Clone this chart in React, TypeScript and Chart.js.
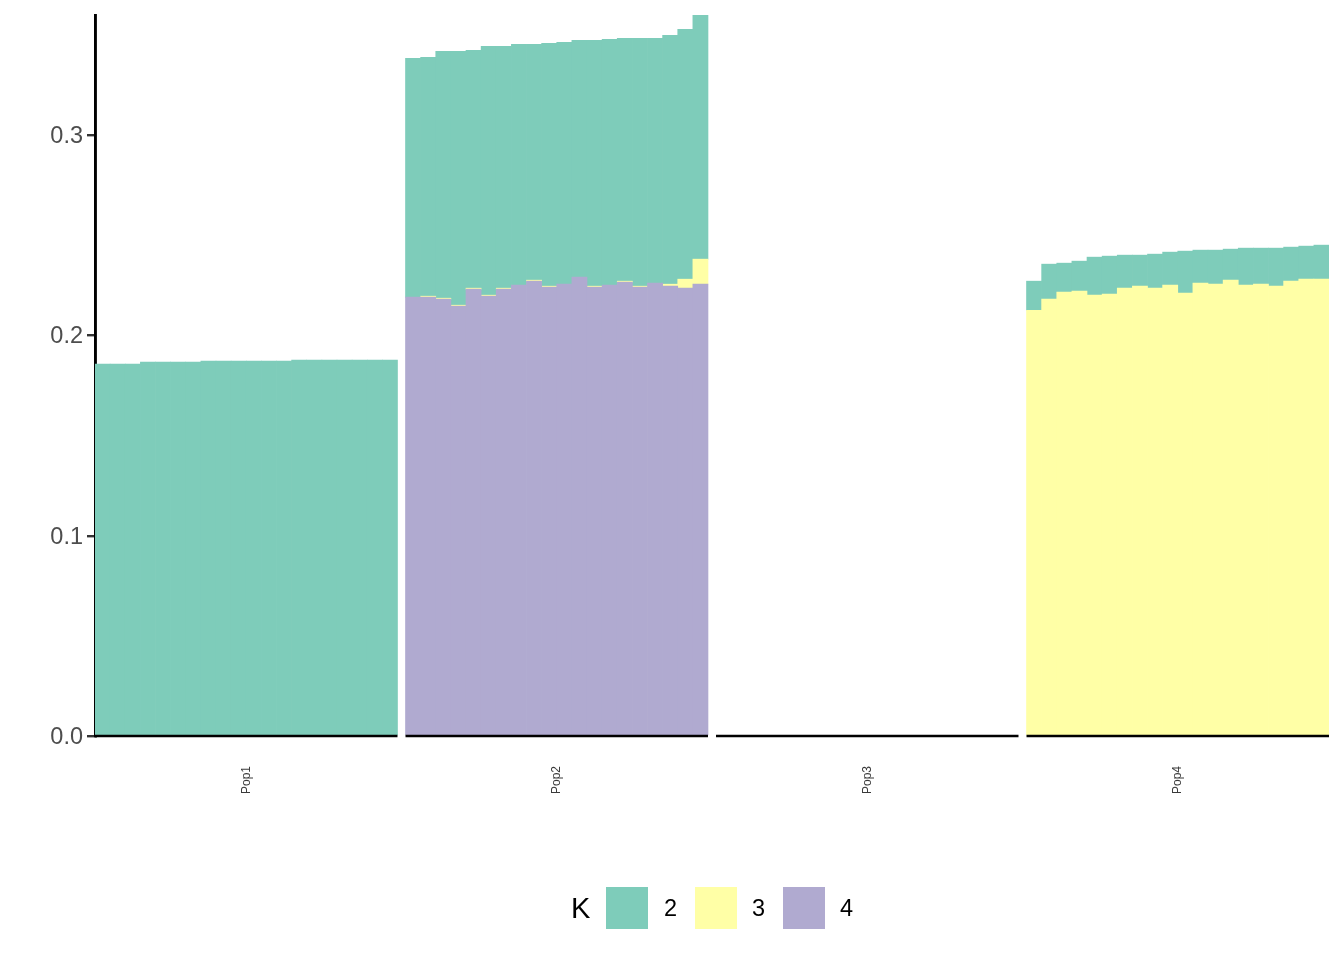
import React, { useEffect, useRef } from 'react';
import { Chart, registerables } from 'chart.js';

Chart.register(...registerables);

// ---- data ----
const pops = ['Pop1', 'Pop2', 'Pop3', 'Pop4'];
const kLevels = ['2', '3', '4'];
const kColors = ['#7ECCBA', '#FFFFA6', '#B0AAD0'];
const yTicks = [0, 0.1, 0.2, 0.3];
const yMax = 0.36;

// K = 2 (teal)
const pop1K2 = [0.1857, 0.1857, 0.1857, 0.1867, 0.1867, 0.1867, 0.1867, 0.1872, 0.1872, 0.1872, 0.1872, 0.1872, 0.1872, 0.1877, 0.1877, 0.1877, 0.1877, 0.1877, 0.1877, 0.1877];
const pop2K2 = [0.1193, 0.1193, 0.1233, 0.1268, 0.1188, 0.1243, 0.1208, 0.1203, 0.1178, 0.1213, 0.1208, 0.1183, 0.1228, 0.1228, 0.1213, 0.1238, 0.1223, 0.1243, 0.1248, 0.1218];
const pop3K2 = [0, 0, 0, 0, 0, 0, 0, 0, 0, 0, 0, 0, 0, 0, 0, 0, 0, 0, 0, 0];
const pop4K2 = [0.0145, 0.0175, 0.0145, 0.0150, 0.0190, 0.0190, 0.0165, 0.0155, 0.0170, 0.0165, 0.0210, 0.0165, 0.0170, 0.0155, 0.0185, 0.0180, 0.0190, 0.0170, 0.0165, 0.0170];

// K = 3 (yellow)
const pop1K3 = [0, 0, 0, 0, 0, 0, 0, 0, 0, 0, 0, 0, 0, 0, 0, 0, 0, 0, 0, 0];
const pop2K3 = [0, 0.0005, 0.0005, 0.0005, 0.0005, 0.0005, 0.0005, 0, 0.0005, 0.0005, 0, 0, 0.0005, 0, 0.0005, 0.0005, 0, 0.001, 0.0045, 0.0125];
const pop3K3 = [0, 0, 0, 0, 0, 0, 0, 0, 0, 0, 0, 0, 0, 0, 0, 0, 0, 0, 0, 0];
const pop4K3 = [0.2126, 0.2181, 0.2216, 0.2221, 0.2201, 0.2206, 0.2236, 0.2246, 0.2236, 0.2251, 0.2211, 0.2261, 0.2256, 0.2276, 0.2251, 0.2256, 0.2246, 0.2271, 0.2281, 0.2281];

// K = 4 (purple)
const pop1K4 = [0, 0, 0, 0, 0, 0, 0, 0, 0, 0, 0, 0, 0, 0, 0, 0, 0, 0, 0, 0];
const pop2K4 = [0.2191, 0.2191, 0.2181, 0.2146, 0.2231, 0.2196, 0.2231, 0.2251, 0.2271, 0.2241, 0.2256, 0.2291, 0.2241, 0.2251, 0.2266, 0.2241, 0.2261, 0.2246, 0.2236, 0.2256];
const pop3K4 = [0, 0, 0, 0, 0, 0, 0, 0, 0, 0, 0, 0, 0, 0, 0, 0, 0, 0, 0, 0];
const pop4K4 = [0, 0, 0, 0, 0, 0, 0, 0, 0, 0, 0, 0, 0, 0, 0, 0, 0, 0, 0, 0];

const seriesByK = [
  [pop1K2, pop2K2, pop3K2, pop4K2],
  [pop1K3, pop2K3, pop3K3, pop4K3],
  [pop1K4, pop2K4, pop3K4, pop4K4],
];

// ---- layout helpers ----
const perPop = 20;
const facetGap = 0.53;
const facetStart = (f: number) => f * (perPop + facetGap);
const xMax = facetStart(pops.length - 1) + perPop;
const FONT = '"Liberation Sans", Arial, Helvetica, sans-serif';

function buildData(arrs: number[][]) {
  const pts: { x: number; y: number | null }[] = [];
  arrs.forEach((arr, f) => {
    arr.forEach((v, j) => {
      pts.push({ x: facetStart(f) + j + 0.5, y: v > 0 ? v : null });
    });
  });
  return pts;
}

const facetAxisPlugin = {
  id: 'facetAxis',
  afterDatasetsDraw(chart: any) {
    const ctx = chart.ctx;
    const xs = chart.scales.x;
    const y = chart.chartArea.bottom;
    ctx.save();
    ctx.strokeStyle = '#000000';
    ctx.lineWidth = 2.7;
    pops.forEach((_, f) => {
      const s = xs.getPixelForValue(facetStart(f));
      const e = xs.getPixelForValue(facetStart(f) + perPop);
      ctx.beginPath();
      ctx.moveTo(s, y);
      ctx.lineTo(e, y);
      ctx.stroke();
    });
    ctx.restore();
  },
};

export default function App() {
  const ref = useRef<HTMLCanvasElement | null>(null);

  useEffect(() => {
    if (!ref.current) return;
    // stacking order bottom -> top : K4, K3, K2
    const order = [2, 1, 0];
    const datasets = order.map((k) => ({
      label: kLevels[k],
      data: buildData(seriesByK[k]),
      backgroundColor: kColors[k],
      borderWidth: 0,
      barPercentage: 1,
      categoryPercentage: 1,
    }));
    const chart = new Chart(ref.current, {
      type: 'bar',
      data: { datasets: datasets as any },
      options: {
        animation: false,
        responsive: false,
        maintainAspectRatio: false,
        layout: { padding: { top: 15, left: 0, right: 15, bottom: 0 } },
        plugins: { legend: { display: false }, tooltip: { enabled: false } },
        scales: {
          x: {
            type: 'linear',
            stacked: true,
            offset: false,
            min: 0,
            max: xMax,
            grid: { display: false, drawTicks: false },
            border: { display: false },
            afterBuildTicks: (scale: any) => {
              scale.ticks = pops.map((_, f) => ({ value: facetStart(f) + perPop / 2 }));
            },
            afterFit: (scale: any) => {
              scale.height = 224;
              scale.paddingLeft = 0;
              scale.paddingRight = 0;
            },
            ticks: {
              autoSkip: false,
              minRotation: 90,
              maxRotation: 90,
              padding: 30,
              color: '#3A3A3A',
              font: { family: FONT, size: 12 },
              callback: (_v: any, i: number) => pops[i],
            },
          },
          y: {
            type: 'linear',
            stacked: true,
            min: 0,
            max: yMax,
            z: 1,
            afterBuildTicks: (scale: any) => {
              scale.ticks = yTicks.map((v) => ({ value: v }));
            },
            afterFit: (scale: any) => {
              scale.width = 95;
              scale.paddingTop = 0;
              scale.paddingBottom = 0;
            },
            grid: {
              display: true,
              drawOnChartArea: false,
              drawTicks: true,
              tickLength: 8,
              color: '#333333',
              lineWidth: 2.4,
            },
            border: { display: true, color: '#000000', width: 2.9 },
            ticks: {
              padding: 4,
              labelOffset: 1.5,
              color: '#4D4D4D',
              font: { family: FONT, size: 23.5 },
              callback: (v: any) => Number(v).toFixed(1),
            },
          },
        },
      },
      plugins: [facetAxisPlugin],
    });
    return () => chart.destroy();
  }, []);

  const legendText: React.CSSProperties = {
    position: 'absolute',
    top: 887,
    height: 42,
    lineHeight: '42px',
    fontFamily: FONT,
    fontSize: 23.5,
    color: '#000000',
  };
  const box = (left: number, color: string): React.CSSProperties => ({
    position: 'absolute',
    left,
    top: 887,
    width: 42,
    height: 42,
    background: color,
  });

  return (
    <div style={{ position: 'absolute', left: 0, top: 0, width: 1344, height: 960, background: '#ffffff' }}>
      <canvas ref={ref} width={1344} height={960} style={{ position: 'absolute', left: 0, top: 0 }} />
      <div style={{ ...legendText, left: 571, fontSize: 29 }}>K</div>
      <div style={box(606, kColors[0])} />
      <div style={{ ...legendText, left: 664 }}>{kLevels[0]}</div>
      <div style={box(695, kColors[1])} />
      <div style={{ ...legendText, left: 752 }}>{kLevels[1]}</div>
      <div style={box(783, kColors[2])} />
      <div style={{ ...legendText, left: 840 }}>{kLevels[2]}</div>
    </div>
  );
}
